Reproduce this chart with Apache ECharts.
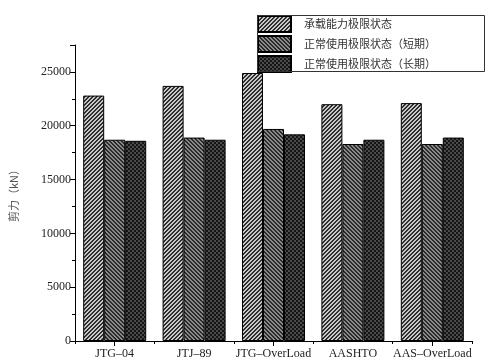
<!DOCTYPE html>
<html>
<head>
<meta charset="utf-8">
<script src="https://cdn.jsdelivr.net/npm/echarts@6/dist/echarts.min.js"></script>
<style>
  html, body { margin: 0; padding: 0; background: #fff; }
  #chart { width: 485px; height: 363px; }
</style>
</head>
<body>
<div id="chart"></div>
<script>
// Shear force (kN) under each code / load case
const categories = ['JTG\u201304', 'JTJ\u201389', 'JTG\u2013OverLoad', 'AASHTO', 'AAS\u2013OverLoad'];
const seriesNames = ['承载能力极限状态', '正常使用极限状态（短期）', '正常使用极限状态（长期）'];
const ultimateValues = [22800, 23700, 24900, 22000, 22100];
const shortTermValues = [18700, 18900, 19700, 18300, 18300];
const longTermValues = [18600, 18700, 19200, 18700, 18900];
const yTicks = [0, 5000, 10000, 15000, 20000, 25000];

const serifFont = '"Liberation Serif", "DejaVu Serif", serif';
const cjkFont = '"Noto Sans CJK SC", sans-serif';

// Hatch fills built on small canvases
function makePattern(kind) {
  const c = document.createElement('canvas');
  c.width = 8; c.height = 8;
  const ctx = c.getContext('2d');
  for (let x = 0; x < 8; x++) {
    for (let y = 0; y < 8; y++) {
      let col;
      if (kind === 'fwd') {
        col = ((x + y) % 4) < 2 ? '#2e2e2e' : '#c8c8c8';
      } else if (kind === 'back') {
        col = (((x - y) % 4) + 4) % 4 < 2 ? '#2a2a2a' : '#8a8a8a';
      } else {
        const a = (Math.floor(x / 2) + Math.floor(y / 2)) % 2;
        col = a ? '#4a4a4a' : '#151515';
      }
      ctx.fillStyle = col;
      ctx.fillRect(x, y, 1, 1);
    }
  }
  return { image: c, repeat: 'repeat' };
}

const fills = [makePattern('fwd'), makePattern('back'), makePattern('check')];
const values = [ultimateValues, shortTermValues, longTermValues];

const chart = echarts.init(document.getElementById('chart'));
chart.setOption({
  animation: false,
  backgroundColor: '#fff',
  grid: { left: 74, right: 13, top: 45, bottom: 22 },
  legend: {
    orient: 'vertical',
    left: 257,
    top: 15,
    icon: 'rect',
    itemWidth: 33,
    itemHeight: 16,
    itemGap: 2,
    padding: 0,
    data: seriesNames,
    textStyle: { fontFamily: cjkFont, fontSize: 11, color: '#333', padding: [0, 0, 0, 8] }
  },
  graphic: [{
    type: 'rect',
    left: 255, top: 13,
    shape: { width: 227, height: 56 },
    style: { fill: 'none', stroke: '#333', lineWidth: 1 },
    z: 10
  }],
  xAxis: [{
    type: 'category',
    data: categories,
    axisLine: { lineStyle: { color: '#000', width: 1 } },
    axisTick: { show: true, length: 3, lineStyle: { color: '#000' } },
    axisLabel: { interval: 0, fontFamily: serifFont, fontSize: 12, color: '#222', margin: 7 }
  }, {
    type: 'category',
    data: categories,
    position: 'bottom',
    axisLine: { show: false },
    axisTick: { show: true, alignWithLabel: true, length: 5, lineStyle: { color: '#000' } },
    axisLabel: { show: false }
  }],
  yAxis: {
    type: 'value',
    min: 0,
    max: 27500,
    interval: 5000,
    name: '剪力（kN）',
    nameLocation: 'middle',
    nameGap: 56,
    nameTextStyle: { fontFamily: cjkFont, fontSize: 11, color: '#555' },
    axisLine: { show: true, lineStyle: { color: '#000', width: 1 } },
    axisTick: { show: true, length: 5, lineStyle: { color: '#000' } },
    minorTick: { show: true, splitNumber: 2, length: 3, lineStyle: { color: '#000' } },
    splitLine: { show: false },
    axisLabel: {
      fontFamily: serifFont, fontSize: 12, color: '#222', margin: 4,
      formatter: v => (yTicks.indexOf(v) >= 0 ? String(v) : '')
    }
  },
  series: seriesNames.map((name, i) => ({
    name,
    type: 'bar',
    xAxisIndex: 0,
    data: values[i],
    barWidth: 21,
    barGap: '0%',
    itemStyle: { color: fills[i], borderColor: '#000', borderWidth: 1 }
  }))
});
</script>
</body>
</html>
